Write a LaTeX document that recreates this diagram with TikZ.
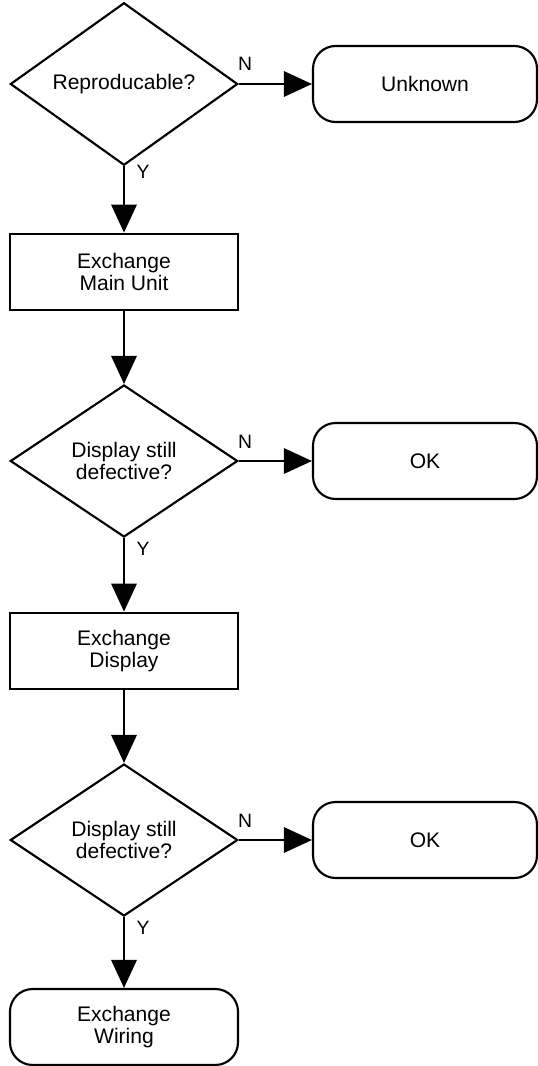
\documentclass[tikz,border=0pt]{standalone}
\usepackage{fontspec}
\setmainfont{Liberation Sans}
\usetikzlibrary{shapes.geometric,arrows.meta}
\begin{document}
\begin{tikzpicture}[x=0.75pt,y=-0.75pt,
  every node/.style={font=\fontsize{15.8}{16.5}\selectfont, align=center, line width=1.6pt},
  decision/.style={draw, shape=diamond, inner sep=0pt, minimum width=170.5pt, minimum height=114pt},
  process/.style={draw, rectangle, minimum width=171pt, minimum height=57.5pt},
  terminal/.style={draw, rectangle, rounded corners=17pt, minimum width=168pt, minimum height=57pt},
  flow/.style={line width=1.7pt, -{Triangle[length=21pt,width=19pt]}},
  lbl/.style={font=\fontsize{14.5}{15}\selectfont, inner sep=0pt}
]
\useasboundingbox (0,0) rectangle (538,1066);

\node[decision] (d1) at (124,84) {Reproducable?};
\node[terminal] (unk) at (425,84) {Unknown};
\node[process] (p1) at (124,272) {Exchange\\Main Unit};
\node[decision] (d2) at (124,461) {Display still\\defective?};
\node[terminal] (ok1) at (425,461) {OK};
\node[process] (p2) at (124,651) {Exchange\\Display};
\node[decision] (d3) at (124,840) {Display still\\defective?};
\node[terminal] (ok2) at (425,840) {OK};
\node[terminal, minimum width=171pt] (wire) at (124,1027) {Exchange\\Wiring};

\draw[flow] (d1.east) -- (unk.west);
\draw[flow] (d1.south) -- (p1.north);
\draw[flow] (p1.south) -- (d2.north);
\draw[flow] (d2.east) -- (ok1.west);
\draw[flow] (d2.south) -- (p2.north);
\draw[flow] (p2.south) -- (d3.north);
\draw[flow] (d3.east) -- (ok2.west);
\draw[flow] (d3.south) -- (wire.north);

\node[lbl] (n1) at (245,64) {N};
\node[lbl] (y1) at (143,172) {Y};
\node[lbl] (n2) at (245,442) {N};
\node[lbl] (y2) at (143,549) {Y};
\node[lbl] (n3) at (245,821) {N};
\node[lbl] (y3) at (143,928) {Y};
\end{tikzpicture}
\end{document}
